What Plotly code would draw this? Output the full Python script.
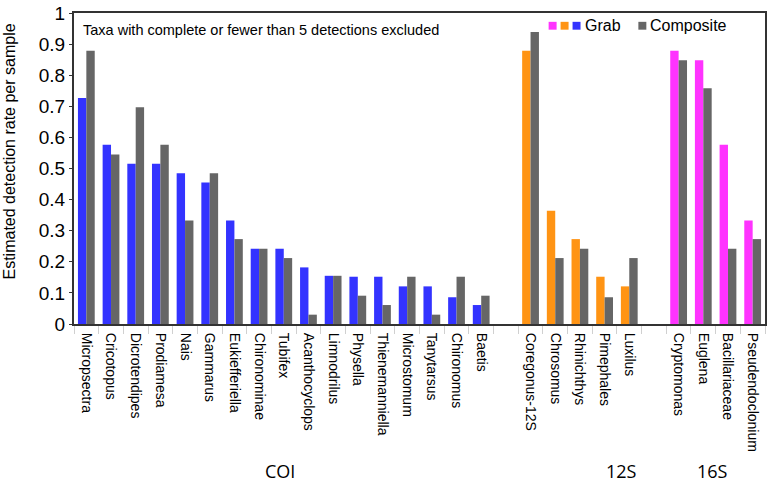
import plotly.graph_objects as go

# ---- data ----
coi_taxa = ["Micropsectra", "Cricotopus", "Dicrotendipes", "Prodiamesa", "Nais", "Gammarus",
            "Eukiefferiella", "Chironominae", "Tubifex", "Acanthocyclops", "Limnodrilus", "Physella",
            "Thienemanniella", "Microstomum", "Tanytarsus", "Chironomus", "Baetis"]
coi_grab = [0.727, 0.576, 0.515, 0.515, 0.485, 0.455, 0.333, 0.242, 0.242, 0.182, 0.155, 0.152,
            0.152, 0.121, 0.121, 0.086, 0.061]
coi_comp = [0.879, 0.545, 0.697, 0.576, 0.333, 0.485, 0.273, 0.242, 0.212, 0.030, 0.155, 0.091,
            0.061, 0.152, 0.030, 0.152, 0.091]

s12_taxa = ["Coregonus-12S", "Chrosomus", "Rhinichthys", "Pimephales", "Luxilus"]
s12_grab = [0.879, 0.364, 0.273, 0.152, 0.121]
s12_comp = [0.939, 0.212, 0.242, 0.086, 0.212]

s16_taxa = ["Cryptomonas", "Euglena", "Bacillariaceae", "Pseudendoclonium"]
s16_grab = [0.879, 0.848, 0.576, 0.333]
s16_comp = [0.848, 0.758, 0.242, 0.273]

gap_labels = [" ", "  "]
group_labels = ["COI", "12S", "16S"]
y_ticks = [0, 0.1, 0.2, 0.3, 0.4, 0.5, 0.6, 0.7, 0.8, 0.9, 1]
y_ticktext = ["0", "0.1", "0.2", "0.3", "0.4", "0.5", "0.6", "0.7", "0.8", "0.9", "1"]

BLUE = "#3333FF"
ORANGE = "#FF9414"
MAGENTA = "#FF33FF"
GRAY = "#666666"

categories = coi_taxa + [gap_labels[0]] + s12_taxa + [gap_labels[1]] + s16_taxa
grab_vals = coi_grab + [None] + s12_grab + [None] + s16_grab
comp_vals = coi_comp + [None] + s12_comp + [None] + s16_comp
grab_colors = [BLUE] * len(coi_taxa) + [BLUE] + [ORANGE] * len(s12_taxa) + [ORANGE] + [MAGENTA] * len(s16_taxa)

W, H = 770, 483
L, R, T, B = 74, 3, 7, 159
pw, ph = W - L - R, H - T - B


def px_x(x):
    return (x - L) / pw


def px_y(y):
    return (H - B - y) / ph


fig = go.Figure()
fig.add_trace(go.Bar(x=categories, y=grab_vals, marker=dict(color=grab_colors, line=dict(width=0)),
                     name="Grab", showlegend=False))
fig.add_trace(go.Bar(x=categories, y=comp_vals, marker=dict(color=GRAY, line=dict(width=0)),
                     name="Composite", showlegend=False))

font = "Liberation Sans, Arial, sans-serif"

fig.update_layout(
    width=W, height=H,
    margin=dict(l=L, r=R, t=T, b=B, pad=0),
    paper_bgcolor="white", plot_bgcolor="white",
    barmode="group", bargap=0.32, bargroupgap=0,
    font=dict(family=font, color="#000000"),
    showlegend=False,
)
fig.update_xaxes(
    type="category", categoryorder="array", categoryarray=categories,
    tickangle=90, tickfont=dict(size=14, family=font, color="#000"),
    ticks="outside", tickson="boundaries", ticklen=8, tickcolor="#d0d0d0", tickwidth=1,
    ticklabelstandoff=4,
    showline=True, linecolor="#333333", linewidth=2, mirror=True,
    showgrid=False, zeroline=False, ticklabeloverflow="allow",
)
fig.update_yaxes(
    range=[0, 1], tickvals=y_ticks, ticktext=y_ticktext,
    tickfont=dict(size=19, family=font, color="#000"),
    ticks="outside", ticklen=3, tickcolor="#333333",
    showline=True, linecolor="#333333", linewidth=2, mirror=True,
    showgrid=False, zeroline=False, ticklabeloverflow="allow",
)

# y-axis title
fig.add_annotation(text="Estimated detection rate per sample", xref="paper", yref="paper",
                   x=px_x(9), y=px_y(148), textangle=-90, showarrow=False,
                   xanchor="center", yanchor="middle", font=dict(size=16, family=font))

# note
fig.add_annotation(text="Taxa with complete or fewer than 5 detections excluded", xref="paper", yref="paper",
                   x=px_x(81), y=px_y(24), showarrow=False, xanchor="left", yanchor="middle",
                   font=dict(size=14.5, family=font))

# group labels
for lab, cx in zip(group_labels, [281, 623, 714]):
    fig.add_annotation(text=lab, xref="paper", yref="paper", x=px_x(cx), y=px_y(474),
                       showarrow=False, xanchor="center", yanchor="middle",
                       font=dict(size=18, family="Open Sans, sans-serif"))

# legend swatches
for x0, c in zip([550, 562, 574, 640], [MAGENTA, ORANGE, BLUE, GRAY]):
    fig.add_shape(type="rect", xref="paper", yref="paper", x0=px_x(x0), x1=px_x(x0 + 8),
                  y0=px_y(24), y1=px_y(16), fillcolor=c, line=dict(width=0))
fig.add_annotation(text="Grab", xref="paper", yref="paper", x=px_x(584), y=px_y(20),
                   showarrow=False, xanchor="left", yanchor="middle", font=dict(size=16, family=font))
fig.add_annotation(text="Composite", xref="paper", yref="paper", x=px_x(650), y=px_y(20),
                   showarrow=False, xanchor="left", yanchor="middle", font=dict(size=16, family=font))

fig.write_html("out.html", config={"displayModeBar": False},
               post_script="document.body.style.margin='0';document.body.style.padding='0';document.body.style.overflow='hidden';")
